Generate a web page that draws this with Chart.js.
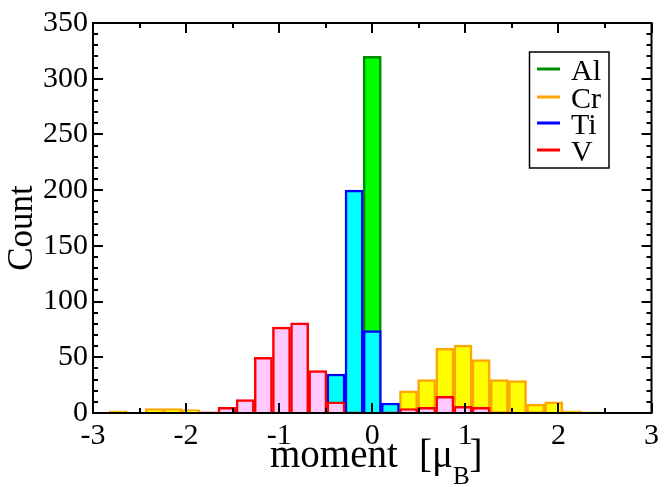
<!DOCTYPE html>
<html lang="en">
<head>
  <meta charset="UTF-8" />
  <script src="https://cdn.jsdelivr.net/npm/chart.js"></script>
  <title>Moment histogram</title>
  <style>
    html, body { margin: 0; padding: 0; background: #fff; }
    #wrap { width: 664px; height: 487px; }
  </style>
</head>
<body>
  <div id="wrap"><canvas id="histChart" width="664" height="487"></canvas></div>

  <script>
    // bin centres (moment, mu_B), bin width about 0.195
    const binCenters = [-2.73, -2.535, -2.34, -2.145, -1.95, -1.755, -1.56, -1.365, -1.17, -0.975,
      -0.78, -0.585, -0.39, -0.195, 0, 0.195, 0.39, 0.585, 0.78, 0.975,
      1.17, 1.365, 1.56, 1.755, 1.95, 2.145, 2.34, 2.535, 2.73];

    const seriesNames = ['Al', 'Cr', 'Ti', 'V'];
    const alCounts = [0,0,0,0,0,0,0,0,0,0,0,0,0,0,320,0,0,0,0,0,0,0,0,0,0,0,0,0,0];
    const crCounts = [2,0,4,4,3,0,0,0,0,0,0,0,0,0,0,0,20,30,58,61,48,30,29,8,10,2,1,0,0];
    const tiCounts = [0,0,0,0,0,0,0,0,0,0,0,0,35,200,74,9,0,0,0,0,0,0,0,0,0,0,0,0,0];
    const vCounts  = [0,0,0,0,0,1,5,12,50,77,81,38,10,1,0,1,4,5,15,6,5,1,0,1,0,0,0,0,0];

    const xTickLabels = [-3, -2, -1, 0, 1, 2, 3];
    const yTickLabels = [0, 50, 100, 150, 200, 250, 300, 350];

    const lineColors = ['#008c00', '#ffa500', '#0000ff', '#ff0000'];
    const fillColors = ['#00ff00', '#ffff00', '#00ffff', '#ffc8ff'];

    function toPoints(counts) {
      const pts = [];
      counts.forEach(function (c, i) {
        if (c > 0) pts.push({ x: binCenters[i], y: c });
      });
      return pts;
    }

    const allCounts = [alCounts, crCounts, tiCounts, vCounts];
    const SERIF = '"Liberation Serif", "DejaVu Serif", serif';

    // frame, inward ticks, axis titles and the boxed legend
    const framePlugin = {
      id: 'frame',
      afterDraw(chart) {
        const ctx = chart.ctx;
        const a = chart.chartArea;
        const x = chart.scales.x;
        const y = chart.scales.y;
        ctx.save();
        ctx.strokeStyle = '#000';
        ctx.lineWidth = 2;
        ctx.strokeRect(a.left, a.top, a.right - a.left, a.bottom - a.top);

        function seg(x1, y1, x2, y2) {
          ctx.beginPath();
          ctx.moveTo(x1, y1);
          ctx.lineTo(x2, y2);
          ctx.stroke();
        }
        // x ticks: major every 1, minor every 0.5
        for (let v = -3; v <= 3.001; v += 0.5) {
          const px = Math.round(x.getPixelForValue(v));
          const len = Math.abs(v - Math.round(v)) < 0.01 ? 10 : 5;
          seg(px, a.bottom, px, a.bottom - len);
          seg(px, a.top, px, a.top + len);
        }
        // y ticks: major every 50, minor every 10
        for (let v = 0; v <= 350; v += 10) {
          const py = Math.round(y.getPixelForValue(v));
          const len = v % 50 === 0 ? 10 : 5;
          seg(a.left, py, a.left + len, py);
          seg(a.right, py, a.right - len, py);
        }

        // y title
        ctx.fillStyle = '#000';
        ctx.save();
        ctx.translate(32, 228);
        ctx.rotate(-Math.PI / 2);
        ctx.font = '35px ' + SERIF;
        ctx.textAlign = 'center';
        ctx.textBaseline = 'alphabetic';
        ctx.fillText('Count', 0, 0);
        ctx.restore();

        // x title with subscript
        const big = '39px ' + SERIF;
        const small = '25px ' + SERIF;
        const base = 467;
        ctx.textBaseline = 'alphabetic';
        ctx.textAlign = 'left';
        ctx.font = big;
        ctx.fillText('moment', 270, base);
        let tx = 419;
        ctx.fillText('[\u03bc', tx, base);
        tx += ctx.measureText('[\u03bc').width;
        ctx.font = small;
        ctx.fillText('B', tx, base + 17);
        tx += ctx.measureText('B').width;
        ctx.font = big;
        ctx.fillText(']', tx, base);

        // legend
        ctx.lineWidth = 1.5;
        ctx.strokeRect(529.5, 52, 79.5, 116);
        const rows = [69, 97, 123, 150];
        ctx.font = '30px ' + SERIF;
        seriesNames.forEach(function (name, i) {
          ctx.strokeStyle = lineColors[i];
          ctx.lineWidth = 3;
          seg(537, rows[i], 560, rows[i]);
          ctx.fillStyle = '#000';
          ctx.fillText(name, 571, rows[i] + 11);
        });
        ctx.restore();
      }
    };

    const ctx = document.getElementById('histChart').getContext('2d');
    const histChart = new Chart(ctx, {
      type: 'bar',
      data: {
        datasets: seriesNames.map(function (name, i) {
          return {
            label: name,
            data: toPoints(allCounts[i]),
            backgroundColor: fillColors[i],
            borderColor: lineColors[i],
            borderWidth: 2.5,
            order: 4 - i
          };
        })
      },
      options: {
        responsive: false,
        animation: false,
        grouped: false,
        barPercentage: 1,
        categoryPercentage: 1,
        layout: { padding: { top: 21, right: 1, left: 0, bottom: 0 } },
        plugins: {
          legend: { display: false },
          tooltip: { enabled: false }
        },
        scales: {
          x: {
            type: 'linear',
            min: -3,
            max: 3,
            offset: false,
            grid: { display: false, drawTicks: false },
            border: { display: false },
            afterBuildTicks: function (scale) {
              scale.ticks = xTickLabels.map(function (v) { return { value: v }; });
            },
            afterFit: function (scale) { scale.height = 74; },
            ticks: {
              color: '#000',
              padding: 5,
              maxRotation: 0,
              autoSkip: false,
              font: { family: SERIF, size: 30 }
            }
          },
          y: {
            min: 0,
            max: 350,
            grid: { display: false, drawTicks: false },
            border: { display: false },
            afterBuildTicks: function (scale) {
              scale.ticks = yTickLabels.map(function (v) { return { value: v }; });
            },
            afterFit: function (scale) { scale.width = 93; },
            ticks: {
              color: '#000',
              padding: 5,
              font: { family: SERIF, size: 30 }
            }
          }
        }
      },
      plugins: [framePlugin]
    });
  </script>
</body>
</html>
